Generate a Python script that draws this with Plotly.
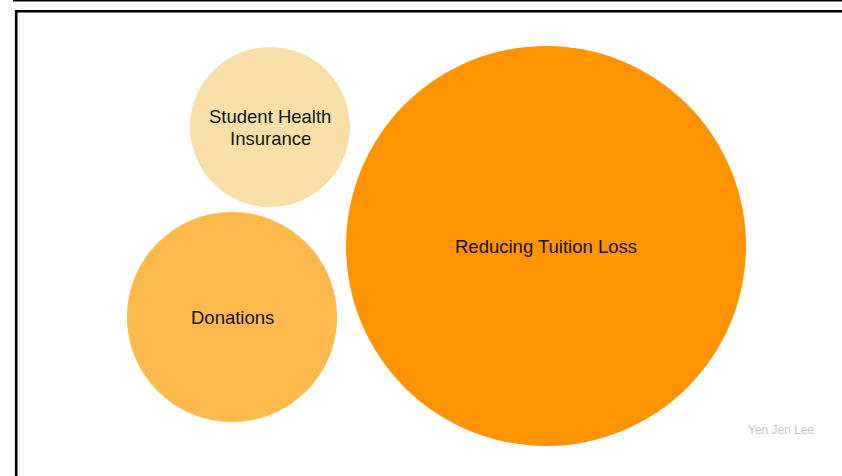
import plotly.graph_objects as go

# Data
categories = ["Student Health Insurance", "Donations", "Reducing Tuition Loss"]
labels = ["Student Health<br>Insurance", "Donations", "Reducing Tuition Loss"]
values = [16.0, 27.6, 100.0]          # relative amounts (bubble area)
x_pos = [270, 232, 546]               # packed-bubble layout positions
y_pos = [127, 317, 246]
colors = ["#F8DFA7", "#FDB94B", "#FF9300"]

W, H = 842, 476
max_radius_px = 200
sizeref = max(values) / (2 * max_radius_px ** 2)
LINE_GAP = 21.5
FONT = "Liberation Sans, Arial, Helvetica, sans-serif"

fig = go.Figure()
fig.add_trace(go.Scatter(
    x=x_pos, y=y_pos, mode="markers",
    marker=dict(size=values, sizemode="area", sizeref=sizeref, color=colors,
                opacity=1, line=dict(width=0)),
    hovertext=categories, hoverinfo="text",
    cliponaxis=False,
))

annotations = []
for lab, xv, yv in zip(labels, x_pos, y_pos):
    lines = lab.split("<br>")
    n = len(lines)
    for i, line in enumerate(lines):
        annotations.append(dict(
            text=line, x=xv, y=yv, xref="x", yref="y", showarrow=False,
            xanchor="center", yanchor="middle",
            yshift=-(i - (n - 1) / 2) * LINE_GAP - 0.5,
            font=dict(family=FONT, size=18.5, color="#141414"),
        ))
annotations.append(dict(text="Yen Jen Lee", x=781, y=430, xref="x", yref="y", showarrow=False,
                        font=dict(family=FONT, size=12, color="#C8C8C8")))

fig.update_layout(
    width=W, height=H, autosize=False,
    margin=dict(l=0, r=0, t=0, b=0),
    paper_bgcolor="white", plot_bgcolor="white",
    showlegend=False,
    xaxis=dict(range=[0, W], visible=False, fixedrange=True),
    yaxis=dict(range=[H, 0], visible=False, fixedrange=True),
    shapes=[
        dict(type="line", xref="x", yref="y", x0=13, x1=W + 5, y0=0.8, y1=0.8,
             line=dict(color="black", width=1.6), layer="above"),
        dict(type="line", xref="x", yref="y", x0=16.2, x1=16.2, y0=10, y1=H + 5,
             line=dict(color="black", width=2.6), layer="above"),
        dict(type="line", xref="x", yref="y", x0=15, x1=W + 5, y0=11.2, y1=11.2,
             line=dict(color="black", width=2.6), layer="above"),
    ],
    annotations=annotations,
)

fig.write_html("out.html", config={"displayModeBar": False},
               post_script="document.body.style.margin='0';document.body.style.overflow='hidden';")
